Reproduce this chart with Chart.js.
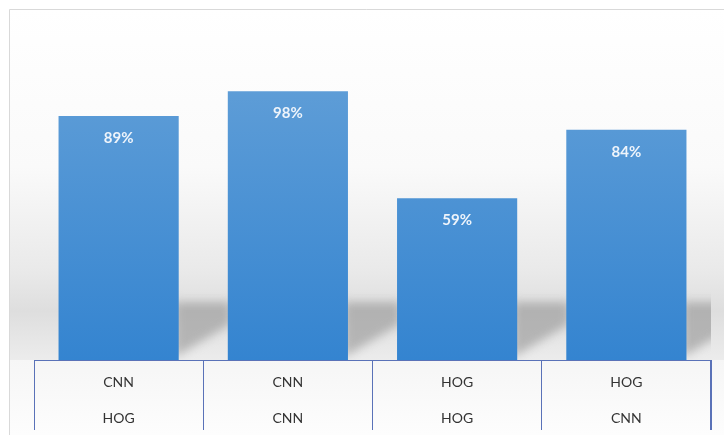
<!DOCTYPE html>
<html>
<head>
<meta charset="utf-8">
<script src="https://cdn.jsdelivr.net/npm/chart.js@4"></script>
<style>
  html, body { margin: 0; padding: 0; background: #ffffff; }
  #wrap { width: 724px; height: 435px; position: relative; }
</style>
</head>
<body>
<div id="wrap"><canvas id="bar-chart"></canvas></div>
<script>
// two-row category labels: feature extractor / classifier
var row_top = ["CNN", "CNN", "HOG", "HOG"];
var row_bottom = ["HOG", "CNN", "HOG", "CNN"];
var data_accuracy = [89, 98, 59, 84];

var labels = [];
for (let i in row_top) {
	labels.push([row_top[i], row_bottom[i]]);
}

var line_blue = "#5a72b8";

// back wall, frame border, floor and the cast shadows
var backdrop = {
	id: "backdrop",
	beforeDraw: function(chart) {
		var ctx = chart.ctx;
		var base = chart.scales.y.getPixelForValue(0);
		ctx.save();
		ctx.fillStyle = "#ffffff";
		ctx.fillRect(0, 0, chart.width, chart.height);

		var wall = ctx.createLinearGradient(0, 9, 0, base);
		wall.addColorStop(0, "#ffffff");
		wall.addColorStop(0.45, "#fafafa");
		wall.addColorStop(0.75, "#e9e9e9");
		wall.addColorStop(0.86, "#dedede");
		wall.addColorStop(1, "#ececec");
		ctx.fillStyle = wall;
		ctx.fillRect(9, 9, chart.width - 9, base - 9);

		var floor = ctx.createLinearGradient(0, base, 0, chart.height);
		floor.addColorStop(0, "#f6f6f6");
		floor.addColorStop(1, "#fdfdfd");
		ctx.fillStyle = floor;
		ctx.fillRect(9, base, chart.width - 9, chart.height - base);

		ctx.strokeStyle = "#d9d9d9";
		ctx.lineWidth = 1;
		ctx.beginPath();
		ctx.moveTo(9.5, chart.height);
		ctx.lineTo(9.5, 9.5);
		ctx.lineTo(chart.width, 9.5);
		ctx.stroke();
		ctx.restore();
	},
	beforeDatasetsDraw: function(chart) {
		var ctx = chart.ctx;
		var area = chart.chartArea;
		var meta = chart.getDatasetMeta(0);
		ctx.save();
		ctx.beginPath();
		ctx.rect(area.left, area.top, area.right - area.left, area.bottom - area.top);
		ctx.clip();
		ctx.filter = "blur(5px)";
		ctx.fillStyle = "rgba(150,150,150,0.62)";
		meta.data.forEach(function(bar) {
			var right = bar.x + bar.width / 2;
			var base = bar.base;
			ctx.beginPath();
			ctx.moveTo(right - 4, base - 3);
			ctx.lineTo(right - 4, base - 58);
			ctx.lineTo(right + 52, base - 58);
			ctx.lineTo(right + 52, base - 36);
			ctx.closePath();
			ctx.fill();
		});
		ctx.restore();
	},
	afterDraw: function(chart) {
		// closing line of the category grid on the right
		var x = chart.scales.x;
		var ctx = chart.ctx;
		ctx.save();
		ctx.strokeStyle = line_blue;
		ctx.lineWidth = 1;
		ctx.beginPath();
		ctx.moveTo(Math.round(x.right) - 0.5, x.top);
		ctx.lineTo(Math.round(x.right) - 0.5, x.top + 70);
		ctx.stroke();
		ctx.restore();
	}
};

// value labels inside the top of each bar
var valueLabels = {
	id: "valueLabels",
	afterDatasetsDraw: function(chart) {
		var ctx = chart.ctx;
		var meta = chart.getDatasetMeta(0);
		ctx.save();
		ctx.font = "bold 15px Lato, 'Open Sans', sans-serif";
		ctx.fillStyle = "#eef4fb";
		ctx.textAlign = "center";
		ctx.textBaseline = "middle";
		meta.data.forEach(function(bar, i) {
			ctx.fillText(data_accuracy[i] + "%", bar.x, bar.y + 22);
		});
		ctx.restore();
	}
};

function barFill(context) {
	var chart = context.chart;
	if (!chart.chartArea) return "#4a90d4";
	var y = chart.scales.y;
	var g = chart.ctx.createLinearGradient(0, y.getPixelForValue(100), 0, y.getPixelForValue(0));
	g.addColorStop(0, "#5e9dd7");
	g.addColorStop(1, "#3484d0");
	return g;
}

new Chart(document.getElementById("bar-chart"), {
	type: "bar",
	data: {
		labels: labels,
		datasets: [
			{
				label: "Accuracy",
				backgroundColor: barFill,
				borderWidth: 0,
				barPercentage: 0.71,
				categoryPercentage: 1,
				data: data_accuracy
			}
		]
	},
	options: {
		responsive: true,
		maintainAspectRatio: false,
		animation: false,
		layout: { padding: { top: 31, left: 34, right: 13, bottom: 0 } },
		plugins: {
			legend: { display: false },
			tooltip: { enabled: false }
		},
		scales: {
			x: {
				grid: {
					offset: true,
					drawOnChartArea: false,
					drawTicks: true,
					tickLength: 70,
					color: line_blue,
					lineWidth: 1
				},
				border: { display: true, color: line_blue, width: 1 },
				ticks: {
					padding: -66,
					color: "#333333",
					font: { family: "Lato, 'Open Sans', sans-serif", size: 14, lineHeight: 36 / 14 }
				},
				afterFit: function(scale) { scale.height = 75; }
			},
			y: {
				display: false,
				min: 0,
				max: 120
			}
		}
	},
	plugins: [backdrop, valueLabels]
});
</script>
</body>
</html>
